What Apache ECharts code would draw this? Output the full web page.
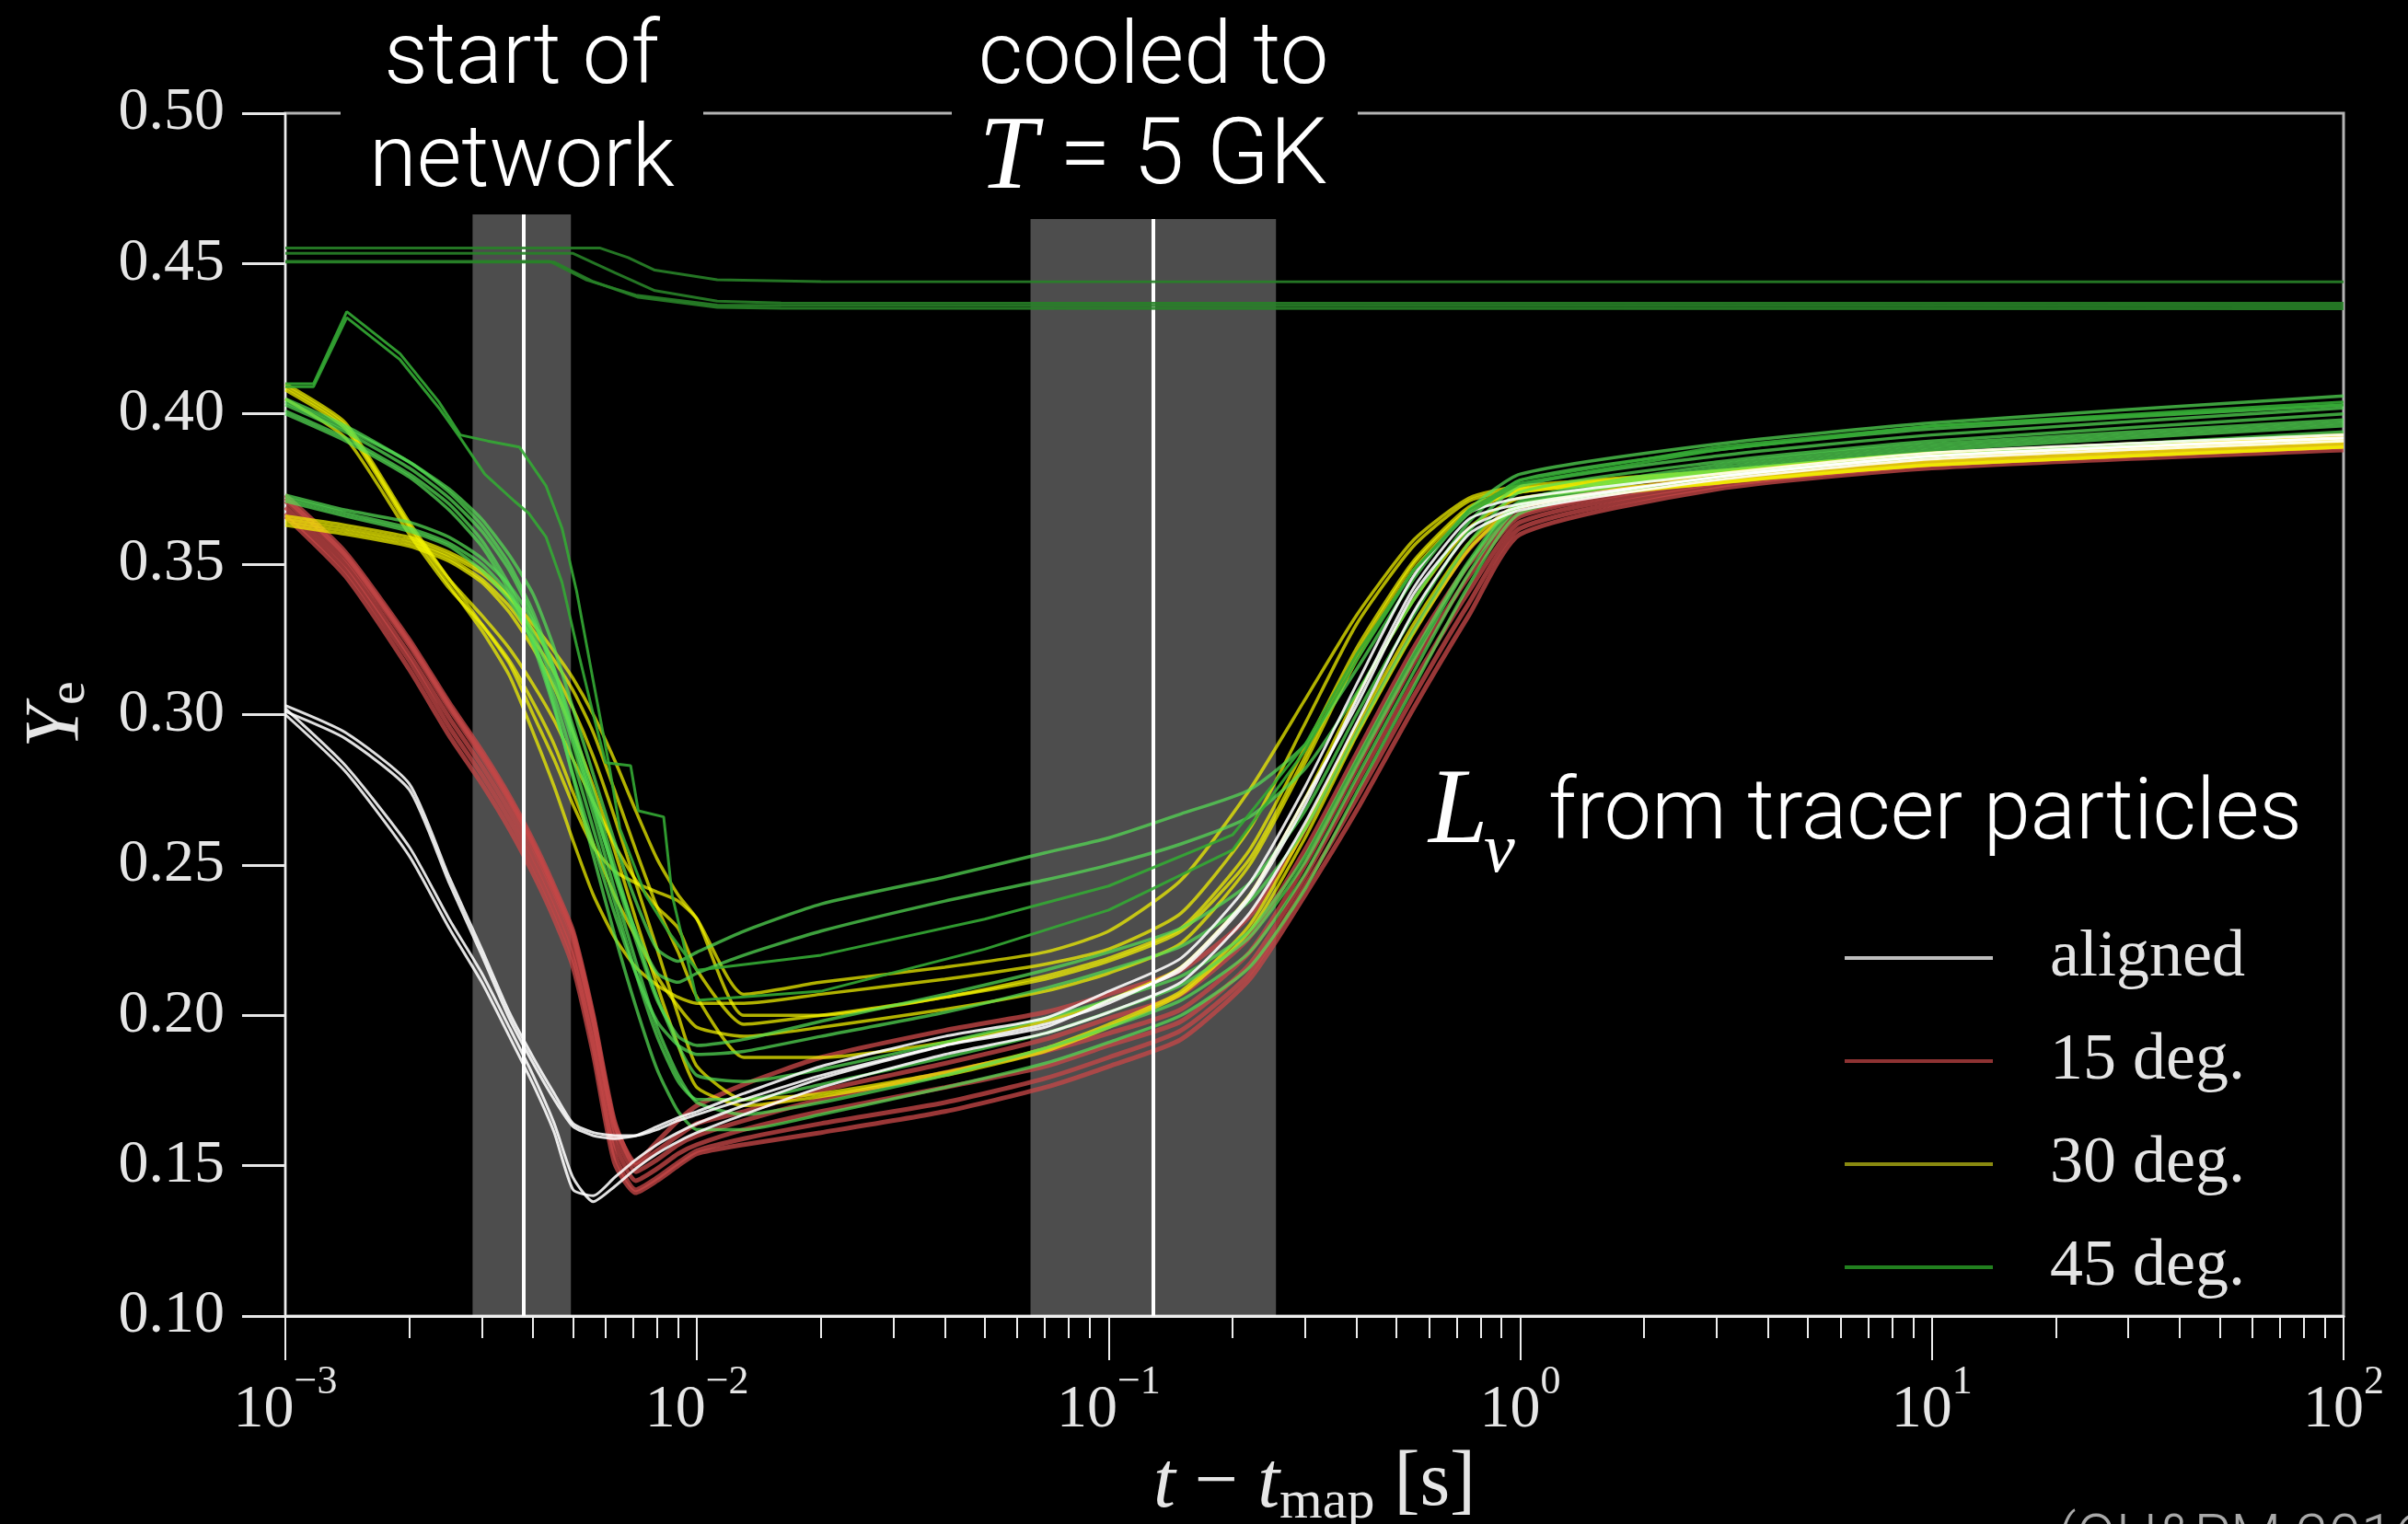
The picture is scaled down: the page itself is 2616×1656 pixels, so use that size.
<!DOCTYPE html>
<html><head><meta charset="utf-8">
<script src="https://cdn.jsdelivr.net/npm/echarts@6/dist/echarts.min.js"></script>
<style>html,body{margin:0;padding:0;background:#000}#c{width:2616px;height:1656px}</style>
</head><body><div id="c"></div>
<script>
// shared time grid [s]
const TIMES = [0.001,0.0014,0.002,0.0025,0.003,0.0035,0.004,0.0045,0.005,0.0056,0.0063,0.0071,0.008,0.009,0.01,0.013,0.02,0.04,0.07,0.1,0.15,0.22,0.3,0.4,0.55,0.75,1,3,10,100];

// aligned (white)
const W1 = [.303,.294,.277,.246,.222,.201,.186,.174,.164,.161,.160,.160,.162,.165,.167,.172,.180,.190,.196,.205,.215,.239,.270,.305,.342,.365,.370,.379,.386,.392];
const W2 = [.301,.292,.275,.244,.220,.199,.184,.172,.163,.160,.159,.160,.163,.166,.168,.174,.183,.193,.199,.208,.219,.244,.276,.310,.346,.367,.372,.380,.387,.393];
const W3 = [.302,.283,.256,.232,.214,.196,.180,.164,.146,.138,.143,.149,.154,.158,.161,.167,.176,.187,.194,.201,.211,.234,.264,.297,.334,.360,.368,.378,.385,.391];
const W4 = [.300,.281,.253,.229,.211,.193,.177,.161,.142,.140,.146,.152,.157,.161,.164,.170,.179,.190,.197,.204,.216,.240,.272,.303,.340,.362,.369,.379,.386,.392];

// 15 deg (red)
const R1 = [.373,.354,.325,.304,.288,.273,.258,.243,.228,.200,.165,.150,.155,.160,.164,.168,.175,.184,.192,.199,.207,.226,.255,.287,.322,.350,.367,.379,.386,.392];
const R2 = [.371,.352,.323,.302,.286,.271,.256,.241,.226,.198,.162,.148,.152,.157,.160,.165,.172,.181,.188,.194,.202,.221,.250,.282,.317,.346,.366,.378,.385,.391];
const R3 = [.369,.350,.320,.299,.283,.268,.253,.238,.222,.194,.158,.145,.149,.154,.157,.162,.168,.176,.183,.190,.198,.217,.246,.277,.311,.341,.364,.377,.384,.390];
const R4 = [.367,.348,.318,.296,.280,.265,.250,.235,.219,.190,.154,.142,.146,.151,.155,.159,.164,.171,.179,.186,.195,.214,.243,.272,.306,.337,.362,.376,.383,.389];
const R5 = [.366,.346,.315,.293,.277,.262,.247,.232,.216,.187,.151,.141,.145,.150,.154,.157,.161,.168,.176,.183,.192,.212,.240,.268,.302,.333,.360,.375,.382,.388];
const R6 = [.372,.353,.324,.303,.287,.272,.257,.242,.227,.199,.164,.151,.158,.165,.170,.177,.186,.195,.201,.207,.215,.233,.262,.294,.328,.355,.369,.379,.386,.393];

// 30 deg (yellow)
const Y1 = [.410,.397,.364,.345,.330,.317,.300,.285,.270,.256,.248,.244,.241,.238,.232,.207,.211,.216,.221,.228,.245,.275,.305,.333,.358,.372,.376,.381,.387,.393];
const Y2 = [.408,.395,.362,.343,.328,.313,.294,.276,.258,.240,.226,.216,.210,.206,.204,.204,.207,.212,.217,.222,.234,.262,.297,.330,.356,.371,.375,.380,.386,.392];
const Y3 = [.405,.392,.360,.342,.330,.318,.304,.290,.274,.257,.240,.226,.213,.203,.196,.193,.196,.202,.208,.214,.224,.250,.284,.318,.348,.367,.374,.379,.385,.391];
const Y4 = [.366,.363,.359,.354,.348,.339,.328,.318,.308,.294,.275,.255,.236,.221,.206,.186,.186,.191,.198,.205,.216,.240,.272,.306,.338,.362,.372,.378,.384,.390];
const Y5 = [.364,.361,.357,.352,.345,.336,.325,.314,.302,.286,.266,.244,.222,.200,.183,.172,.174,.181,.189,.197,.208,.230,.262,.296,.330,.357,.370,.377,.383,.389];
const Y6 = [.365,.362,.358,.353,.347,.339,.330,.321,.312,.300,.285,.268,.252,.240,.232,.200,.200,.206,.212,.218,.228,.252,.286,.320,.350,.368,.374,.380,.386,.391];
const Y7 = [.409,.396,.363,.345,.333,.322,.310,.298,.285,.271,.257,.245,.236,.229,.215,.197,.200,.206,.213,.219,.229,.255,.289,.322,.351,.369,.375,.381,.387,.392];
const Y8 = [.363,.360,.356,.351,.344,.334,.322,.309,.294,.276,.255,.232,.210,.190,.176,.170,.173,.180,.188,.196,.207,.228,.259,.293,.327,.355,.369,.377,.383,.389];

// 45 deg (green)
const G1 = [.405,.396,.384,.375,.365,.353,.340,.322,.302,.280,.258,.238,.222,.218,.221,.228,.237,.246,.254,.259,.267,.275,.290,.315,.345,.368,.380,.390,.397,.406];
const G2 = [.403,.394,.382,.372,.361,.348,.332,.313,.292,.270,.248,.228,.214,.211,.214,.220,.228,.238,.245,.250,.257,.266,.282,.307,.338,.364,.378,.388,.395,.403];
const G3 = [.400,.391,.379,.368,.356,.341,.323,.302,.280,.257,.234,.214,.198,.190,.187,.188,.193,.201,.209,.215,.223,.238,.262,.294,.328,.357,.374,.384,.391,.400];
const G4 = [.373,.368,.364,.359,.352,.343,.331,.315,.296,.274,.250,.227,.206,.190,.180,.178,.182,.191,.199,.205,.213,.228,.253,.285,.320,.351,.371,.383,.390,.398];
const G5 = [.372,.367,.362,.357,.350,.340,.327,.310,.290,.267,.242,.218,.196,.180,.171,.167,.171,.180,.189,.196,.205,.221,.247,.279,.314,.347,.369,.381,.388,.396];
const G6 = [.401,.392,.380,.370,.358,.343,.325,.303,.279,.253,.227,.203,.182,.168,.162,.162,.167,.176,.184,.191,.200,.216,.242,.274,.309,.343,.367,.379,.386,.394];
const G7 = [.404,.395,.384,.374,.363,.350,.334,.315,.294,.271,.247,.225,.205,.193,.190,.192,.198,.207,.215,.221,.229,.244,.268,.300,.333,.361,.376,.386,.393,.402];
const G8 = [.371,.366,.361,.356,.348,.338,.324,.306,.285,.262,.238,.214,.193,.178,.172,.172,.177,.186,.194,.201,.210,.226,.251,.283,.318,.350,.370,.382,.389,.397];

// 45 deg outliers: [time, Ye]
const P1 = [[0.001,.410],[0.00117,.410],[0.00141,.434],[0.0019,.420],[0.00236,.404],[0.00266,.393],[0.0031,.391],[0.0037,.389],[0.0043,.376],[0.0047,.362],[0.0051,.341],[0.0056,.311],[0.0061,.284],[0.0065,.262],[0.0075,.240],[0.0085,.228],[0.01,.215],[0.02,.220],[0.05,.232],[0.1,.243],[0.2,.260],[0.3,.290],[0.4,.320],[0.55,.348],[0.75,.368],[1,.378],[3,.389],[10,.396],[100,.404]];
const P2 = [[0.001,.409],[0.00117,.409],[0.00141,.432],[0.0019,.418],[0.00236,.402],[0.00266,.392],[0.00305,.380],[0.0036,.371],[0.0039,.367],[0.0043,.359],[0.0047,.344],[0.0051,.323],[0.0056,.300],[0.006,.284],[0.0069,.283],[0.0072,.268],[0.0083,.266],[0.0087,.240],[0.01,.205],[0.02,.208],[0.05,.222],[0.1,.235],[0.2,.255],[0.3,.288],[0.4,.318],[0.55,.348],[0.75,.367],[1,.377],[3,.388],[10,.396],[100,.403]];
const F1 = [[0.001,.4552],[0.0058,.4552],[0.0068,.4520],[0.0079,.4478],[0.0112,.4446],[0.02,.4440],[100,.4439]];
const F2 = [[0.001,.4534],[0.0050,.4534],[0.0063,.4470],[0.0079,.4410],[0.0112,.4375],[0.016,.4369],[100,.4368]];
const F3 = [[0.001,.4507],[0.0044,.4507],[0.0054,.4445],[0.0071,.4395],[0.0112,.4362],[0.016,.4360],[100,.4359]];
const F4 = [[0.001,.4505],[0.0045,.4505],[0.0056,.4440],[0.0072,.4388],[0.0112,.4354],[0.016,.4351],[100,.4350]];

// highlighted time windows
const BAND_NETWORK = [0.00285, 0.00494, 0.4663];
const BAND_COOLED = [0.0646, 0.255, 0.4648];
const MARK_NETWORK = 0.00379;
const MARK_COOLED = 0.128;

const MINOR_TICKS = [0.002,0.003,0.004,0.005,0.006,0.007,0.008,0.009,
  0.02,0.03,0.04,0.05,0.06,0.07,0.08,0.09,
  0.2,0.3,0.4,0.5,0.6,0.7,0.8,0.9,
  2,3,4,5,6,7,8,9,
  20,30,40,50,60,70,80,90];

const LEGEND_NAMES = ['aligned','15 deg.','30 deg.','45 deg.'];

function gridSeries(name, ys, color, width, z) {
  return {type:'line', name, data: TIMES.map((t,i)=>[t, ys[i]]), showSymbol:false, symbol:'none',
    smooth:0.2, lineStyle:{color, width}, itemStyle:{color}, z, silent:true};
}
function pairSeries(name, pts, color, width, z) {
  return {type:'line', name, data: pts, showSymbol:false, symbol:'none', smooth:false,
    lineStyle:{color, width}, itemStyle:{color}, z, silent:true};
}

const RED = 'rgba(196,70,70,0.78)', YEL = 'rgba(245,245,0,0.72)', GRN = 'rgba(85,222,85,0.72)',
      WHT = 'rgba(255,255,255,0.88)', DGR = 'rgba(52,170,52,0.9)', FGR = 'rgba(40,130,40,0.9)';

const series = [];
[R1,R2,R3,R4,R5,R6].forEach(a=>series.push(gridSeries(LEGEND_NAMES[1], a, RED, 5, 2)));
[Y1,Y2,Y3,Y4,Y5,Y6,Y7,Y8].forEach(a=>series.push(gridSeries(LEGEND_NAMES[2], a, YEL, 3.5, 3)));
[G1,G2,G3,G4,G5,G6,G7,G8].forEach(a=>series.push(gridSeries(LEGEND_NAMES[3], a, GRN, 3.5, 4)));
[W1,W2,W3,W4].forEach(a=>series.push(gridSeries(LEGEND_NAMES[0], a, WHT, 3, 5)));
[P1,P2].forEach(a=>series.push(pairSeries(LEGEND_NAMES[3], a, DGR, 3, 5)));
[F1,F2,F3,F4].forEach(a=>series.push(pairSeries(LEGEND_NAMES[3], a, FGR, 3, 5)));

series.push({type:'line', name:'windows', data:[], z:10, silent:true,
  markArea:{silent:true, itemStyle:{color:'rgba(255,255,255,0.3)'}, label:{show:false},
    data:[[{coord:[BAND_NETWORK[0],0.1]},{coord:[BAND_NETWORK[1],BAND_NETWORK[2]]}],
          [{coord:[BAND_COOLED[0],0.1]},{coord:[BAND_COOLED[1],BAND_COOLED[2]]}]]},
  markLine:{silent:true, symbol:['none','none'], label:{show:false},
    lineStyle:{color:'#ffffff', width:4, type:'solid', opacity:1},
    data:[[{coord:[MARK_NETWORK,0.1]},{coord:[MARK_NETWORK,BAND_NETWORK[2]]}],
          [{coord:[MARK_COOLED,0.1]},{coord:[MARK_COOLED,BAND_COOLED[2]]}]]}
});

const serif = 'Liberation Serif';
const sans = 'Roboto';
const chart = echarts.init(document.getElementById('c'), null, {renderer:'canvas'});
chart.setOption({
  backgroundColor:'#000',
  animation:false,
  grid:{left:310, top:123, width:2236, height:1307, show:true, borderColor:'#b4b4b4', borderWidth:3,
    backgroundColor:'transparent', containLabel:false, outerBoundsMode:'none'},
  legend:{show:true, left:1999, top:996, orient:'vertical', itemWidth:161, itemHeight:4, itemGap:32, icon:'rect',
    selectedMode:false,
    textStyle:{color:'#e4e4e4', fontFamily:serif, fontSize:72, lineHeight:80, padding:[0,0,0,57]},
    data:[{name:LEGEND_NAMES[0], itemStyle:{color:'#bdbdbd'}},
          {name:LEGEND_NAMES[1], itemStyle:{color:'#8e3333'}},
          {name:LEGEND_NAMES[2], itemStyle:{color:'#8a8a10'}},
          {name:LEGEND_NAMES[3], itemStyle:{color:'#22801f'}}]},
  xAxis:[{
    type:'log', logBase:10, min:0.001, max:100, splitNumber:5, position:'bottom',
    axisLine:{show:true, lineStyle:{color:'#eeeeee', width:3}},
    axisTick:{show:true, inside:false, length:48, lineStyle:{color:'#eeeeee', width:2}},
    splitLine:{show:false}, minorTick:{show:false},
    axisLabel:{margin:50, color:'#e6e6e6',
      formatter:(v)=>{const e=Math.round(Math.log10(v)); return '{b|10}{s|'+(e<0?'\u2212':'')+Math.abs(e)+'}';},
      rich:{b:{fontFamily:serif, fontSize:66, lineHeight:86, verticalAlign:'bottom', color:'#e6e6e6'},
            s:{fontFamily:serif, fontSize:44, lineHeight:44, verticalAlign:'top', color:'#e6e6e6'}}},
    name:'{i|t}{n| \u2212 }{i|t}{s|map}{n| [s]}', nameLocation:'middle', nameGap:128,
    nameTextStyle:{color:'#e6e6e6', rich:{
      i:{fontFamily:serif, fontStyle:'italic', fontSize:86, lineHeight:92, verticalAlign:'top', color:'#e6e6e6'},
      n:{fontFamily:serif, fontSize:84, lineHeight:92, verticalAlign:'top', color:'#e6e6e6'},
      s:{fontFamily:serif, fontSize:60, lineHeight:60, verticalAlign:'bottom', color:'#e6e6e6'}}}
  },{
    type:'log', logBase:10, min:0.001, max:100, position:'bottom',
    axisLine:{show:false}, axisLabel:{show:false}, splitLine:{show:false},
    axisTick:{show:true, inside:false, length:24, customValues:MINOR_TICKS, lineStyle:{color:'#eeeeee', width:2}}
  }],
  yAxis:{type:'value', min:0.1, max:0.5, interval:0.05,
    axisLine:{show:true, lineStyle:{color:'#eeeeee', width:2}},
    axisTick:{show:true, inside:false, length:47, lineStyle:{color:'#e6e6e6', width:3}},
    splitLine:{show:false},
    axisLabel:{margin:66, color:'#e6e6e6', fontFamily:serif, fontSize:66, formatter:(v)=>v.toFixed(2)},
    name:'{i|Y}{s|e}', nameLocation:'middle', nameRotate:90, nameGap:205,
    nameTextStyle:{rich:{
      i:{fontFamily:serif, fontStyle:'italic', fontSize:84, lineHeight:84, verticalAlign:'top', color:'#e6e6e6'},
      s:{fontFamily:serif, fontSize:58, lineHeight:58, verticalAlign:'bottom', color:'#e6e6e6'}}}
  },
  series,
  graphic:[
    {type:'rect', z:100, shape:{x:370, y:100, width:394, height:45}, style:{fill:'#000'}},
    {type:'rect', z:100, shape:{x:1034, y:100, width:441, height:45}, style:{fill:'#000'}},
    {type:'text', z:101, x:567, y:66, style:{text:'start of', fill:'#fff', font:'300 94px Roboto', align:'center', verticalAlign:'middle'}},
    {type:'text', z:101, x:567, y:178, style:{text:'network', fill:'#fff', font:'300 94px Roboto', align:'center', verticalAlign:'middle'}},
    {type:'text', z:101, x:1253, y:66, style:{text:'cooled to', fill:'#fff', font:'300 94px Roboto', align:'center', verticalAlign:'middle'}},
    {type:'text', z:101, x:1253, y:174, style:{text:'{i|T}{n| = 5 GK}', align:'center', verticalAlign:'middle',
      rich:{i:{fontFamily:serif, fontStyle:'italic', fontSize:114, fill:'#fff'},
            n:{fontFamily:sans, fontWeight:300, fontSize:100, fill:'#fff'}}}},
    {type:'text', z:101, x:1552, y:884, style:{text:'L', fill:'#fff', font:'italic 116px "Liberation Serif"', align:'left', verticalAlign:'middle'}},
    {type:'text', z:101, x:1612, y:927, style:{text:'\u03BD', fill:'#fff', font:'italic 76px "Liberation Serif"', align:'left', verticalAlign:'middle'}},
    {type:'text', z:101, x:1682, y:888, style:{text:'from tracer particles', fill:'#fff', font:'300 92px Roboto', align:'left', verticalAlign:'middle'}},
    {type:'text', z:101, x:2235, y:1643, style:{text:'(OH&PM 2016)', fill:'#a8a8a8', font:'300 64px Roboto', align:'left', verticalAlign:'top'}}
  ]
});
</script>
</body></html>
